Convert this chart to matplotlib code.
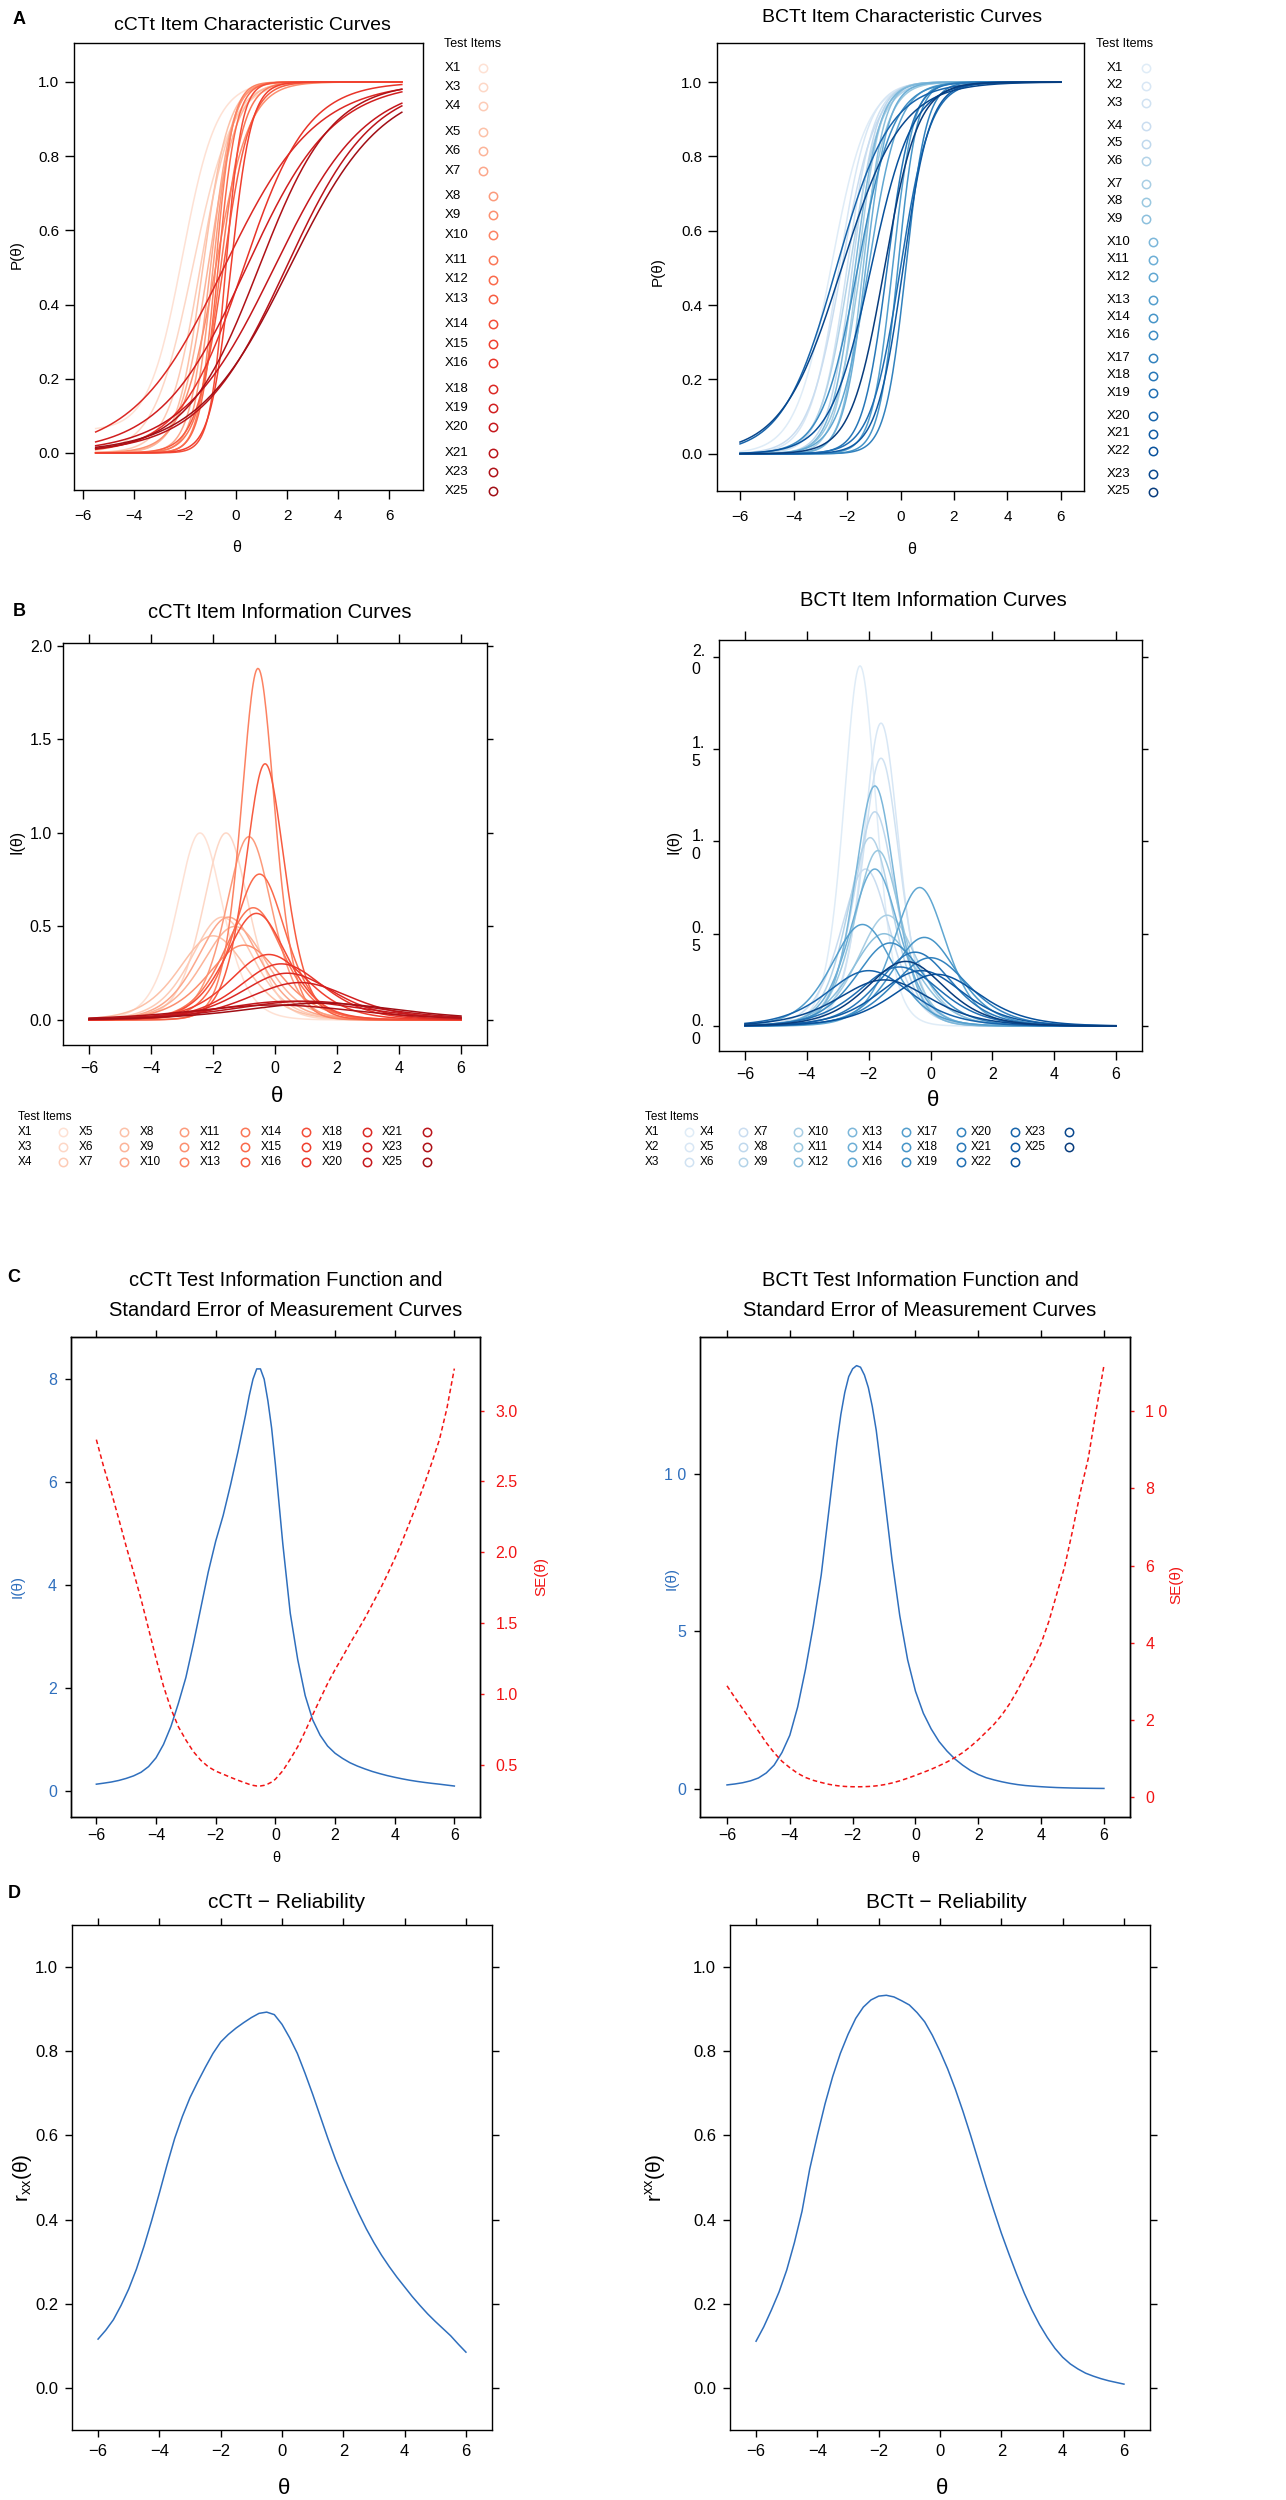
import numpy as np
import matplotlib.pyplot as plt

plt.rcParams['font.family'] = ['Liberation Sans', 'DejaVu Sans']
plt.rcParams['axes.linewidth'] = 1.0
plt.rcParams['xtick.major.width'] = 1.0
plt.rcParams['ytick.major.width'] = 1.0

W, H = 1286, 2500

# ---------------- data ----------------
cctt_items = ['X1', 'X3', 'X4', 'X5', 'X6', 'X7', 'X8', 'X9', 'X10', 'X11', 'X12',
              'X13', 'X14', 'X15', 'X16', 'X18', 'X19', 'X20', 'X21', 'X23', 'X25']
bctt_items = ['X1', 'X2', 'X3', 'X4', 'X5', 'X6', 'X7', 'X8', 'X9', 'X10', 'X11', 'X12',
              'X13', 'X14', 'X16', 'X17', 'X18', 'X19', 'X20', 'X21', 'X22', 'X23', 'X25']

# item characteristic curves (panel A): slope, location, lower asymptote
cctt_icc_a = [1.5, 1.3, 1.6, 2.0, 1.8, 2.4, 2.6, 1.5, 3.0, 2.2, 2.8,
              1.9, 3.2, 2.5, 0.8, 0.56, 0.59, 0.56, 0.59, 0.7, 0.55]
cctt_icc_b = [-2.1, -1.7, -1.4, -1.3, -1.1, -1.0, -0.9, -0.8, -0.8, -0.6, -0.7,
              -0.5, -0.4, -0.2, 0.3, -0.47, 0.41, 1.5, 1.97, 0.9, 2.1]
cctt_icc_c = [0.06] + [0.0] * 20

bctt_icc_a = [1.5, 1.8, 2.0, 1.6, 2.2, 1.8, 2.4, 2.0, 2.6, 2.2, 2.4, 1.8,
              2.6, 2.8, 1.5, 2.6, 2.2, 1.8, 1.0, 2.0, 1.3, 0.9, 1.6]
bctt_icc_b = [-2.6, -2.3, -2.0, -2.2, -1.8, -1.9, -1.6, -1.5, -1.4, -1.7, -1.3, -1.2,
              -0.3, -0.1, -1.6, 0.2, -0.5, 0.0, -2.4, 0.1, -1.1, -2.2, -0.6]

# item information curves (panel B): peak location and peak height
cctt_iic_loc = [-2.42, -1.58, -1.7, -2.0, -1.3, -1.5, -0.84, -1.0, -0.55, -0.7, -0.5,
                -0.32, -0.6, -0.2, 0.2, 0.4, 0.8, 0.5, 1.0, 0.0, 1.5]
cctt_iic_peak = [1.0, 1.0, 0.55, 0.45, 0.5, 0.55, 0.98, 0.4, 1.88, 0.6, 0.78,
                 1.37, 0.57, 0.35, 0.3, 0.25, 0.2, 0.1, 0.1, 0.08, 0.09]
bctt_iic_loc = [-2.28, -1.6, -1.6, -2.1, -1.8, -1.95, -1.4, -1.7, -1.5, -1.8, -1.8, -0.35,
                -2.2, -0.2, -1.3, 0.0, -0.5, -1.0, -2.0, -0.3, 0.2, -1.5, -0.8]
bctt_iic_peak = [1.95, 1.64, 1.45, 0.85, 1.16, 1.02, 0.6, 0.95, 0.5, 1.3, 0.85, 0.75,
                 0.55, 0.48, 0.45, 0.37, 0.4, 0.32, 0.3, 0.3, 0.28, 0.25, 0.35]

# test information (panel C)
theta_c1 = [-6.0, -5.75, -5.5, -5.25, -5.0, -4.75, -4.5, -4.25, -4.0, -3.75, -3.5, -3.25,
            -3.0, -2.75, -2.5, -2.25, -2.0, -1.75, -1.5, -1.25, -1.0, -0.875, -0.75,
            -0.625, -0.5, -0.375, -0.25, -0.125, 0.0, 0.25, 0.5, 0.75, 1.0, 1.25, 1.5,
            1.75, 2.0, 2.25, 2.5, 2.75, 3.0, 3.25, 3.5, 3.75, 4.0, 4.25, 4.5, 4.75, 5.0,
            5.25, 5.5, 5.75, 6.0]
cctt_info = [0.128, 0.148, 0.170, 0.200, 0.240, 0.290, 0.360, 0.470, 0.640, 0.900, 1.250,
             1.700, 2.200, 2.850, 3.550, 4.250, 4.850, 5.350, 5.950, 6.600, 7.300, 7.680,
             8.000, 8.200, 8.200, 8.000, 7.580, 7.050, 6.350, 4.800, 3.450, 2.550, 1.850,
             1.380, 1.080, 0.870, 0.730, 0.630, 0.545, 0.480, 0.425, 0.375, 0.333, 0.295,
             0.262, 0.232, 0.205, 0.182, 0.162, 0.144, 0.128, 0.110, 0.092]
theta_c2 = [-6.0, -5.75, -5.5, -5.25, -5.0, -4.75, -4.5, -4.25, -4.0, -3.75, -3.5, -3.25,
            -3.0, -2.75, -2.5, -2.375, -2.25, -2.125, -2.0, -1.875, -1.75, -1.625, -1.5,
            -1.375, -1.25, -1.0, -0.75, -0.5, -0.25, 0.0, 0.25, 0.5, 0.75, 1.0, 1.25, 1.5,
            1.75, 2.0, 2.25, 2.5, 2.75, 3.0, 3.25, 3.5, 3.75, 4.0, 4.25, 4.5, 4.75, 5.0,
            5.25, 5.5, 5.75, 6.0]
bctt_info = [0.12, 0.15, 0.19, 0.25, 0.34, 0.50, 0.75, 1.15, 1.70, 2.60, 3.80, 5.20,
             6.80, 8.90, 11.0, 11.9, 12.6, 13.1, 13.35, 13.45, 13.4, 13.15, 12.75,
             12.15, 11.4, 9.4, 7.3, 5.5, 4.1, 3.1, 2.4, 1.9, 1.5, 1.2, 0.95, 0.75,
             0.58, 0.45, 0.35, 0.28, 0.22, 0.17, 0.13, 0.10, 0.08, 0.063, 0.048, 0.036,
             0.028, 0.021, 0.016, 0.013, 0.010, 0.008]

# reliability (panel D), read every 0.25 on theta
theta_d = [-6.0, -5.75, -5.5, -5.25, -5.0, -4.75, -4.5, -4.25, -4.0, -3.75, -3.5, -3.25,
           -3.0, -2.75, -2.5, -2.25, -2.0, -1.75, -1.5, -1.25, -1.0, -0.75, -0.5, -0.25,
           0.0, 0.25, 0.5, 0.75, 1.0, 1.25, 1.5, 1.75, 2.0, 2.25, 2.5, 2.75, 3.0, 3.25,
           3.5, 3.75, 4.0, 4.25, 4.5, 4.75, 5.0, 5.25, 5.5, 5.75, 6.0]
cctt_rel = [0.116, 0.137, 0.162, 0.196, 0.235, 0.282, 0.337, 0.398, 0.463, 0.530, 0.593,
            0.645, 0.690, 0.727, 0.762, 0.795, 0.822, 0.840, 0.855, 0.868, 0.880, 0.890,
            0.893, 0.887, 0.864, 0.832, 0.795, 0.748, 0.698, 0.645, 0.592, 0.542, 0.497,
            0.455, 0.415, 0.378, 0.345, 0.315, 0.288, 0.263, 0.240, 0.217, 0.196, 0.176,
            0.158, 0.141, 0.124, 0.104, 0.085]
bctt_rel = [0.111, 0.145, 0.185, 0.228, 0.280, 0.345, 0.420, 0.520, 0.600, 0.675, 0.740,
            0.795, 0.840, 0.878, 0.905, 0.922, 0.931, 0.933, 0.929, 0.920, 0.910, 0.892,
            0.870, 0.838, 0.800, 0.758, 0.710, 0.657, 0.600, 0.540, 0.480, 0.423, 0.368,
            0.318, 0.270, 0.225, 0.185, 0.150, 0.120, 0.094, 0.073, 0.057, 0.045, 0.035,
            0.028, 0.022, 0.017, 0.013, 0.009]

cctt_cols = plt.cm.Reds(np.linspace(0.12, 0.88, len(cctt_items)))
bctt_cols = plt.cm.Blues(np.linspace(0.12, 0.95, len(bctt_items)))
BLUE = '#2f6fbd'
RED = '#f21414'

fig = plt.figure(figsize=(W / 100, H / 100), dpi=100)


def box(l, t, r, b):
    return fig.add_axes([l / W, 1 - b / H, (r - l) / W, (b - t) / H])


over = fig.add_axes([0, 0, 1, 1], zorder=5)
over.set_xlim(0, W)
over.set_ylim(H, 0)
over.set_autoscale_on(False)
over.axis('off')


def txt(x, y, s, **kw):
    kw.setdefault('ha', 'center')
    kw.setdefault('va', 'center')
    over.text(x, y, s, **kw)


for x, y, s in [(19, 19, 'A'), (19, 612, 'B'), (14, 1278, 'C'), (14, 1893, 'D')]:
    txt(x, y, s, fontsize=13, fontweight='bold')

# ---------------- A: item characteristic curves ----------------
def icc(th, a, b, c):
    return c + (1 - c) / (1 + np.exp(-a * (th - b)))


axA1 = box(74, 43, 423, 490)
th = np.linspace(-5.5, 6.5, 400)
for a, b, c, col in zip(cctt_icc_a, cctt_icc_b, cctt_icc_c, cctt_cols):
    axA1.plot(th, icc(th, a, b, c), color=col, lw=1.1)
axA1.set_xlim(-6.35, 7.33)

axA2 = box(717, 43, 1084, 491)
th = np.linspace(-6, 6, 400)
for a, b, col in zip(bctt_icc_a, bctt_icc_b, bctt_cols):
    axA2.plot(th, icc(th, a, b, 0), color=col, lw=1.1)
axA2.set_xlim(-6.86, 6.86)

for ax in (axA1, axA2):
    ax.set_ylim(-0.1, 1.105)
    ax.set_xticks(range(-6, 7, 2))
    ax.set_yticks([0, 0.2, 0.4, 0.6, 0.8, 1.0])
    ax.set_yticklabels(['0.0', '0.2', '0.4', '0.6', '0.8', '1.0'])
    ax.tick_params(direction='out', length=6.5, labelsize=11)
    ax.tick_params(axis='x', pad=7)
    ax.tick_params(axis='y', pad=4)

txt(252, 25, 'cCTt Item Characteristic Curves', fontsize=14)
txt(902, 17, 'BCTt Item Characteristic Curves', fontsize=14)
txt(17, 255, 'P(θ)', fontsize=11, rotation=90)
txt(658, 272, 'P(θ)', fontsize=11, rotation=90)
txt(237, 548, 'θ', fontsize=11.5)
txt(912, 549, 'θ', fontsize=11.5)

# vertical legends
txt(444, 44, 'Test Items', fontsize=9, ha='left')
for i, (lab, col) in enumerate(zip(cctt_items, cctt_cols)):
    g = i // 3
    y = 68 + 19.2 * i + 6.5 * g
    txt(445, y, lab, fontsize=9.5, ha='left')
    over.plot(483 if g < 2 else 493, y, 'o', mfc='none', mec=col, ms=6, mew=1.1)

txt(1096, 44, 'Test Items', fontsize=9, ha='left')
for i, (lab, col) in enumerate(zip(bctt_items, bctt_cols)):
    g = i // 3
    y = 68 + 17.5 * i + 5.5 * g
    txt(1107, y, lab, fontsize=9.5, ha='left')
    over.plot(1146 if g < 3 else 1153, y, 'o', mfc='none', mec=col, ms=6, mew=1.1)

# ---------------- B: item information curves ----------------
def iic(th, loc, peak):
    a = 2 * np.sqrt(peak)
    p = 1 / (1 + np.exp(-a * (th - loc)))
    return a * a * p * (1 - p)


th = np.linspace(-6, 6, 400)
axB1 = box(63, 643, 487, 1045)
for loc, pk, col in zip(cctt_iic_loc, cctt_iic_peak, cctt_cols):
    axB1.plot(th, iic(th, loc, pk), color=col, lw=1.1)
axB1.set_ylim(-0.134, 2.016)
axB1.set_yticks([0, 0.5, 1.0, 1.5, 2.0])
axB1.set_yticklabels(['0.0', '0.5', '1.0', '1.5', '2.0'])

axB2 = box(719, 640, 1142, 1051)
for loc, pk, col in zip(bctt_iic_loc, bctt_iic_peak, bctt_cols):
    axB2.plot(th, iic(th, loc, pk), color=col, lw=1.1)
axB2.set_ylim(-0.135, 2.09)
axB2.set_yticks([0, 0.5, 1.0, 1.5, 2.0])
axB2.set_yticklabels([])
for v in [0, 0.5, 1.0, 1.5, 2.0]:
    s = f'{v:.1f}'
    axB2.annotate(s[:2] + '\n' + s[2:], xy=(0, v), xycoords=('axes fraction', 'data'),
                  xytext=(-10, 9), textcoords='offset points', ha='right', va='top',
                  multialignment='left', fontsize=11.5, linespacing=1.25)

for ax in (axB1, axB2):
    ax.set_xlim(-6.84, 6.84)
    ax.set_xticks(range(-6, 7, 2))
    ax.tick_params(direction='out', top=True, right=True, labeltop=False,
                   labelright=False, labelsize=11.5)
    ax.tick_params(axis='x', length=6.5, pad=5)
    ax.tick_params(axis='y', length=4, pad=4)

txt(280, 612, 'cCTt Item Information Curves', fontsize=14.5)
txt(933, 601, 'BCTt Item Information Curves', fontsize=14.5)
txt(17, 842, 'I(θ)', fontsize=11.5, rotation=90)
txt(674, 842, 'I(θ)', fontsize=11.5, rotation=90)
txt(277, 1096, 'θ', fontsize=16)
txt(933, 1100, 'θ', fontsize=16)

# horizontal legends
txt(18, 1117, 'Test Items', fontsize=8.5, ha='left')
for i, (lab, col) in enumerate(zip(cctt_items, cctt_cols)):
    k, r = divmod(i, 3)
    x = 18 + 60.7 * k
    y = 1132 + 15 * r
    txt(x, y, lab, fontsize=8.5, ha='left')
    over.plot(x + 45, y, 'o', mfc='none', mec=col, ms=6, mew=1.1)

txt(645, 1117, 'Test Items', fontsize=8.5, ha='left')
for i, (lab, col) in enumerate(zip(bctt_items, bctt_cols)):
    k, r = divmod(i, 3)
    x = 645 + 54.3 * k
    y = 1132 + 15 * r
    txt(x, y, lab, fontsize=8.5, ha='left')
    over.plot(x + 44, y, 'o', mfc='none', mec=col, ms=6, mew=1.1)

# ---------------- C: test information and SE ----------------
def info_panel(rect, theta, info, ilim, iticks, ilabels, slim, sticks, slabels, xlim):
    ax = box(*rect)
    ax.plot(theta, info, color=BLUE, lw=1.1)
    ax.set_xlim(*xlim)
    ax.set_ylim(*ilim)
    ax.set_xticks(range(-6, 7, 2))
    ax.set_yticks(iticks)
    ax.set_yticklabels(ilabels)
    ax.tick_params(direction='out', top=True, labeltop=False, labelsize=11.5)
    ax.tick_params(axis='x', length=5, pad=3)
    ax.tick_params(axis='y', length=4, pad=6, colors=BLUE)
    ax.tick_params(axis='y', color='black')
    ax2 = ax.twinx()
    ax2.plot(theta, 1 / np.sqrt(np.array(info)), color=RED, lw=1.1, ls=(0, (3, 2)))
    ax2.set_ylim(*slim)
    ax2.set_yticks(sticks)
    ax2.set_yticklabels(slabels)
    ax2.tick_params(direction='out', length=3, pad=8, labelsize=11.5, labelcolor=RED,
                    color=RED)
    return ax


info_panel((71, 1337, 480, 1817), theta_c1, cctt_info, (-0.51, 8.82), [0, 2, 4, 6, 8],
           ['0', '2', '4', '6', '8'], (0.13, 3.52), [0.5, 1.0, 1.5, 2.0, 2.5, 3.0],
           ['0.5', '1.0', '1.5', '2.0', '2.5', '3.0'], (-6.85, 6.86))
info_panel((700, 1337, 1130, 1817), theta_c2, bctt_info, (-0.9, 14.36), [0, 5, 10],
           ['0', '5', '1 0'], (-0.51, 11.92), [0, 2, 4, 6, 8, 10],
           ['0', '2', '4', '6', '8', '1 0'], (-6.86, 6.83))

txt(286, 1281, 'cCTt Test Information Function and', fontsize=14.5)
txt(286, 1311, 'Standard Error of Measurement Curves', fontsize=14.5)
txt(920, 1281, 'BCTt Test Information Function and', fontsize=14.5)
txt(920, 1311, 'Standard Error of Measurement Curves', fontsize=14.5)
txt(18, 1587, 'I(θ)', fontsize=11, rotation=90, color=BLUE)
txt(541, 1577, 'SE(θ)', fontsize=11, rotation=90, color=RED)
txt(672, 1579, 'I(θ)', fontsize=11, rotation=90, color=BLUE)
txt(1176, 1584, 'SE(θ)', fontsize=11, rotation=90, color=RED)
txt(276, 1858, 'θ', fontsize=10.5)
txt(915, 1858, 'θ', fontsize=10.5)

# ---------------- D: reliability ----------------
for rect, rel in [((72, 1925, 492, 2430), cctt_rel), ((730, 1925, 1150, 2430), bctt_rel)]:
    ax = box(*rect)
    ax.plot(theta_d, rel, color=BLUE, lw=1.1)
    ax.set_xlim(-6.85, 6.85)
    ax.set_ylim(-0.1, 1.1)
    ax.set_xticks(range(-6, 7, 2))
    ax.set_yticks([0, 0.2, 0.4, 0.6, 0.8, 1.0])
    ax.set_yticklabels(['0.0', '0.2', '0.4', '0.6', '0.8', '1.0'])
    ax.tick_params(direction='out', top=True, right=True, labeltop=False,
                   labelright=False, labelsize=12, length=5, pad=5)

txt(287, 1903, 'cCTt − Reliability', fontsize=15)
txt(946, 1903, 'BCTt − Reliability', fontsize=15)
txt(22, 2178, r'r$_{\mathregular{xx}}$(θ)', fontsize=15, rotation=90)
txt(656, 2178, r'r$^{\mathregular{xx}}$(θ)', fontsize=15, rotation=90)
txt(284, 2488, 'θ', fontsize=16)
txt(942, 2488, 'θ', fontsize=16)

fig.savefig('out.png', dpi=100)
